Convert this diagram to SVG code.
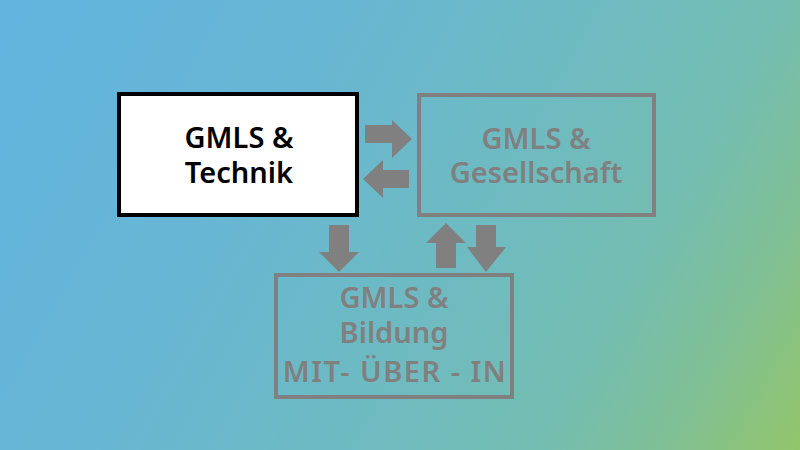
<svg xmlns="http://www.w3.org/2000/svg" width="800" height="450" viewBox="0 0 800 450">
<defs>
<linearGradient id="bg" x1="0" y1="0" x2="800" y2="450" gradientUnits="userSpaceOnUse">
<stop offset="0" stop-color="#62b4df"/>
<stop offset="0.3" stop-color="#67b6d5"/>
<stop offset="0.6" stop-color="#6fbbbf"/>
<stop offset="0.75" stop-color="#74bdb1"/>
<stop offset="0.87" stop-color="#80c095"/>
<stop offset="1" stop-color="#93c56a"/>
</linearGradient>
<style>
.t{font-family:"Noto Sans",Lato,sans-serif;font-size:29px;font-weight:600;text-anchor:middle}
.dark{fill:#000}
.gray{fill:#808080}
.wide{letter-spacing:1.5px}
.box{fill:none;stroke:#808080;stroke-width:4}
.arr{fill:#808080}
</style>
</defs>
<rect width="800" height="450" fill="url(#bg)"/>
<g id="technik">
<rect x="119" y="94" width="238" height="121" fill="#fff" stroke="#000" stroke-width="4"/>
<text class="t dark" x="239" y="148">GMLS &amp;</text>
<text class="t dark" x="239" y="183">Technik</text>
</g>
<g id="gesellschaft">
<rect class="box" x="419" y="95" width="235" height="120"/>
<text class="t gray" x="536" y="149">GMLS &amp;</text>
<text class="t gray" x="536" y="183">Gesellschaft</text>
</g>
<g id="bildung">
<rect class="box" x="276" y="275" width="236" height="122"/>
<text class="t gray" x="394" y="308">GMLS &amp;</text>
<text class="t gray" x="394" y="343">Bildung</text>
<text class="t gray wide" x="395" y="382">MIT- ÜBER - IN</text>
</g>
<g id="connectors">
<polygon class="arr" points="365,125 392,125 392,120 412,139 392,158 392,143 365,143"/>
<polygon class="arr" points="409,170 383,170 383,160 363,179 383,198 383,188 409,188"/>
<polygon class="arr" points="329,225 349,225 349,252 359,252 339,272 319,252 329,252"/>
<polygon class="arr" points="446,223 466,243 456,243 456,268 436,268 436,243 426,243"/>
<polygon class="arr" points="476,225 496,225 496,247 506,247 486,272 467,247 476,247"/>
</g>
</svg>
